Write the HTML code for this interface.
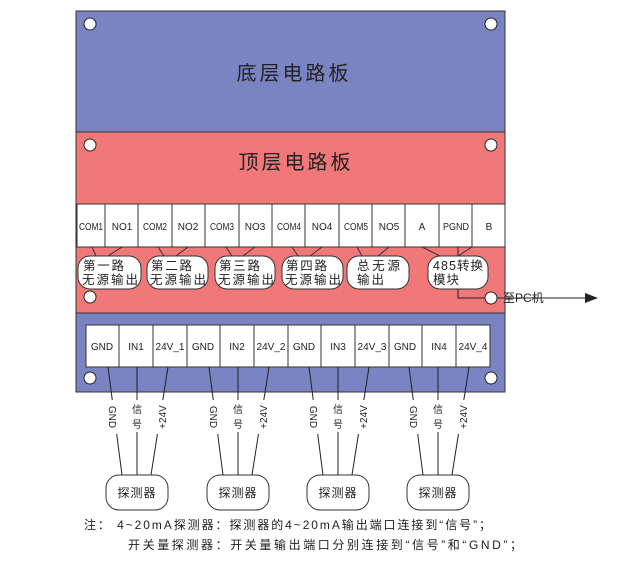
<!DOCTYPE html>
<html><head><meta charset="utf-8"><style>html,body{margin:0;padding:0;background:#fff}svg{display:block}text{font-family:"Liberation Sans","Noto Sans CJK SC",sans-serif}</style></head>
<body>
<svg width="640" height="564" viewBox="0 0 640 564" xmlns="http://www.w3.org/2000/svg">
<rect x="76" y="11" width="429" height="121" fill="#7b84c2" stroke="#333" stroke-width="1"/>
<rect x="76" y="132" width="429" height="181" fill="#f07878" stroke="#333" stroke-width="1"/>
<rect x="76" y="313" width="429" height="79" fill="#7b84c2" stroke="#333" stroke-width="1"/>
<g fill="#fff" stroke="#222" stroke-width="1">
<circle cx="90" cy="24" r="6"/><circle cx="491" cy="24" r="6"/>
<circle cx="90" cy="145" r="6"/><circle cx="491" cy="145" r="6"/>
<circle cx="90" cy="297" r="6"/>
<circle cx="90" cy="378" r="6"/><circle cx="491" cy="378" r="6"/>
</g>
<text x="294" y="80" font-size="20" text-anchor="middle" fill="#222" letter-spacing="3">底层电路板</text>
<text x="296" y="169" font-size="20" text-anchor="middle" fill="#222" letter-spacing="3">顶层电路板</text>
<rect x="77" y="204" width="428" height="43" stroke="#333" fill="#fff"/>
<g stroke="#333" stroke-width="1">
<line x1="105" y1="204" x2="105" y2="247"/><line x1="138" y1="204" x2="138" y2="247"/><line x1="172" y1="204" x2="172" y2="247"/><line x1="205" y1="204" x2="205" y2="247"/><line x1="239" y1="204" x2="239" y2="247"/><line x1="272" y1="204" x2="272" y2="247"/><line x1="305" y1="204" x2="305" y2="247"/><line x1="339" y1="204" x2="339" y2="247"/><line x1="372" y1="204" x2="372" y2="247"/><line x1="405" y1="204" x2="405" y2="247"/><line x1="439" y1="204" x2="439" y2="247"/><line x1="472" y1="204" x2="472" y2="247"/>
</g>
<g font-size="10" fill="#222">
<text x="79" y="230" textLength="24" lengthAdjust="spacingAndGlyphs">COM1</text><text x="122" y="230" text-anchor="middle">NO1</text>
<text x="143" y="230" textLength="24" lengthAdjust="spacingAndGlyphs">COM2</text><text x="188" y="230" text-anchor="middle">NO2</text>
<text x="210" y="230" textLength="24" lengthAdjust="spacingAndGlyphs">COM3</text><text x="255" y="230" text-anchor="middle">NO3</text>
<text x="277" y="230" textLength="24" lengthAdjust="spacingAndGlyphs">COM4</text><text x="322" y="230" text-anchor="middle">NO4</text>
<text x="344" y="230" textLength="24" lengthAdjust="spacingAndGlyphs">COM5</text><text x="389" y="230" text-anchor="middle">NO5</text>
<text x="422" y="230" text-anchor="middle">A</text><text x="443" y="230" textLength="26" lengthAdjust="spacingAndGlyphs">PGND</text><text x="489" y="230" text-anchor="middle">B</text>
</g>
<g stroke="#333" stroke-width="1">
<line x1="92" y1="247" x2="96" y2="256"/><line x1="122" y1="247" x2="108" y2="256"/>
<line x1="158" y1="247" x2="164" y2="256"/><line x1="188" y1="247" x2="176" y2="256"/>
<line x1="226" y1="247" x2="232" y2="256"/><line x1="255" y1="247" x2="243" y2="256"/>
<line x1="292" y1="247" x2="298" y2="256"/><line x1="322" y1="247" x2="310" y2="256"/>
<line x1="357" y1="247" x2="362" y2="256"/><line x1="389" y1="247" x2="378" y2="256"/>
<line x1="422" y1="247" x2="440" y2="256"/><line x1="472" y1="247" x2="458" y2="256"/>
</g>
<polyline points="458,247 458,298 590,298" fill="none" stroke="#222" stroke-width="1"/>
<g fill="#fff" stroke="#333" stroke-width="1">
<rect x="78" y="256" width="63" height="33" rx="12"/>
<rect x="147" y="256" width="61" height="33" rx="12"/>
<rect x="215" y="256" width="60" height="33" rx="12"/>
<rect x="282" y="256" width="61" height="33" rx="12"/>
<rect x="347" y="256" width="62" height="33" rx="12"/>
<rect x="428" y="256" width="60" height="33" rx="12"/>
</g>
<g font-size="12.5" fill="#222">
<text x="83" y="270" textLength="41">第一路</text><text x="82" y="284" textLength="56">无源输出</text>
<text x="151" y="270" textLength="41">第二路</text><text x="150" y="284" textLength="56">无源输出</text>
<text x="219" y="270" textLength="41">第三路</text><text x="218" y="284" textLength="56">无源输出</text>
<text x="286" y="270" textLength="41">第四路</text><text x="285" y="284" textLength="56">无源输出</text>
<text x="357" y="270" textLength="43">总无源</text><text x="357" y="284" textLength="27">输出</text>
<text x="433" y="270" textLength="50">485转换</text><text x="433" y="284" textLength="26">模块</text>
</g>
<polygon points="585,293 598,298 585,303" fill="#222"/>
<circle cx="491" cy="298" r="6" fill="#fff" stroke="#222"/>
<text x="503" y="302" font-size="12" fill="#222">至PC机</text>
<rect x="86" y="325" width="404" height="42" fill="#fff" stroke="#333"/>
<g stroke="#333">
<line x1="119" y1="325" x2="119" y2="367"/><line x1="153" y1="325" x2="153" y2="367"/><line x1="187" y1="325" x2="187" y2="367"/><line x1="220" y1="325" x2="220" y2="367"/><line x1="254" y1="325" x2="254" y2="367"/><line x1="288" y1="325" x2="288" y2="367"/><line x1="321" y1="325" x2="321" y2="367"/><line x1="355" y1="325" x2="355" y2="367"/><line x1="389" y1="325" x2="389" y2="367"/><line x1="422" y1="325" x2="422" y2="367"/><line x1="456" y1="325" x2="456" y2="367"/>
</g>
<g font-size="10" text-anchor="middle" fill="#222">
<text x="102" y="350">GND</text><text x="136" y="350">IN1</text><text x="170" y="350" textLength="29" lengthAdjust="spacingAndGlyphs">24V_1</text>
<text x="203" y="350">GND</text><text x="237" y="350">IN2</text><text x="271" y="350" textLength="29" lengthAdjust="spacingAndGlyphs">24V_2</text>
<text x="304" y="350">GND</text><text x="338" y="350">IN3</text><text x="372" y="350" textLength="29" lengthAdjust="spacingAndGlyphs">24V_3</text>
<text x="405" y="350">GND</text><text x="439" y="350">IN4</text><text x="473" y="350" textLength="29" lengthAdjust="spacingAndGlyphs">24V_4</text>
</g>
<g id="d1">
<g stroke="#222" stroke-width="1">
<line x1="108" y1="367" x2="122" y2="475"/><line x1="137" y1="367" x2="137" y2="475"/><line x1="168" y1="367" x2="151" y2="475"/>
</g>
<rect x="106" y="475" width="62" height="35" rx="13" fill="#fff" stroke="#333"/>
<text x="137" y="497" font-size="12" text-anchor="middle" fill="#222" letter-spacing="1">探测器</text>
<rect x="105" y="400" width="15" height="34" fill="#fff"/>
<rect x="131" y="400" width="13" height="32" fill="#fff"/>
<rect x="155" y="400" width="15" height="34" fill="#fff"/>
<text transform="translate(109,417) rotate(90)" font-size="10" text-anchor="middle" fill="#222">GND</text>
<text x="137" y="413" font-size="10" text-anchor="middle" fill="#222">信</text>
<text x="137" y="428" font-size="10" text-anchor="middle" fill="#222">号</text>
<text transform="translate(166,417) rotate(-90)" font-size="10" text-anchor="middle" fill="#222">+24V</text>
</g>
<use href="#d1" transform="translate(101,0)"/>
<use href="#d1" transform="translate(201,0)"/>
<use href="#d1" transform="translate(301,0)"/>
<text x="84" y="529" font-size="12" fill="#222" textLength="407">注：  4~20mA探测器：探测器的4~20mA输出端口连接到“信号”；</text>
<text x="128" y="549" font-size="12" fill="#222" textLength="394">开关量探测器：开关量输出端口分别连接到“信号”和“GND”；</text>
</svg>
</body></html>
